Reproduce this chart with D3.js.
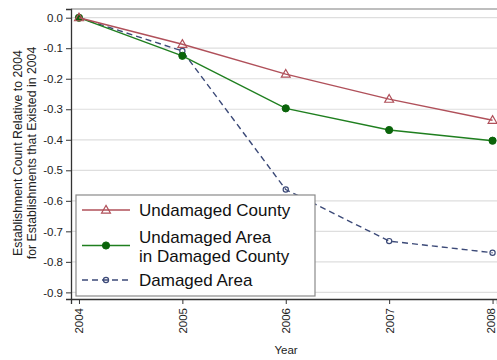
<!DOCTYPE html>
<html>
<head>
<meta charset="utf-8">
<script src="https://cdn.jsdelivr.net/npm/d3@7"></script>
<style>
  html, body { margin: 0; padding: 0; background: #fff; }
  svg { display: block; font-family: "Liberation Sans", Arial, sans-serif; }
</style>
</head>
<body>
<svg id="chart" width="497" height="360"></svg>
<script>
// Establishment counts relative to 2004, by area type
const years = [2004, 2005, 2006, 2007, 2008];
const undamagedCounty = [0, -0.087, -0.185, -0.267, -0.336];
const undamagedAreaDamagedCounty = [0, -0.125, -0.297, -0.368, -0.403];
const damagedArea = [0, -0.109, -0.563, -0.732, -0.770];
const yTicks = [0, -0.1, -0.2, -0.3, -0.4, -0.5, -0.6, -0.7, -0.8, -0.9];

const seriesNames = ["Undamaged County", "Undamaged Area\nin Damaged County", "Damaged Area"];
const seriesValues = [undamagedCounty, undamagedAreaDamagedCounty, damagedArea];
const seriesStyle = [
  { color: "#b0505a", dash: null, marker: "triangle" },
  { color: "#1f7f1f", dash: null, marker: "dot", fill: "#0a640a" },
  { color: "#3c4a78", dash: "6,4", marker: "ring" }
];

const svg = d3.select("#chart");
const plotLeft = 71, plotRight = 497, plotTop = 9, plotBottom = 299;

const x = d3.scaleLinear().domain([2003.923, 2008.043]).range([plotLeft, plotRight]);
const y = d3.scaleLinear().domain([0.0285, -0.9217]).range([plotTop, plotBottom]);

// grid lines
svg.append("g").selectAll("line").data(yTicks).join("line")
  .attr("x1", plotLeft).attr("x2", plotRight)
  .attr("y1", d => y(d)).attr("y2", d => y(d))
  .attr("stroke", "#dedede").attr("stroke-width", 1.2);

// top frame line
svg.append("line").attr("x1", plotLeft).attr("x2", plotRight).attr("y1", plotTop).attr("y2", plotTop)
  .attr("stroke", "#a8a8a8").attr("stroke-width", 1.5);

// y axis
const yAxis = svg.append("g").attr("transform", `translate(${plotLeft},0)`)
  .call(d3.axisLeft(y).tickValues(yTicks).tickSize(5).tickPadding(3)
    .tickFormat(d => d3.format(".1f")(d).replace("−", "-")));
yAxis.select(".domain").attr("stroke", "#333").attr("stroke-width", 1.3);
yAxis.selectAll(".tick line").attr("stroke", "#333");
yAxis.selectAll("text").attr("font-size", 11.5).attr("fill", "#222")
  .attr("font-family", "Liberation Sans, Arial, sans-serif");

// x axis
const xAxis = svg.append("g").attr("transform", `translate(0,${plotBottom})`)
  .call(d3.axisBottom(x).tickValues(years).tickSize(5).tickFormat(d3.format("d")));
xAxis.select(".domain").attr("stroke", "#333").attr("stroke-width", 1.3);
xAxis.selectAll(".tick line").attr("stroke", "#333");
xAxis.selectAll("text").attr("font-size", 11.5).attr("fill", "#222")
  .attr("font-family", "Liberation Sans, Arial, sans-serif")
  .attr("transform", "rotate(-90)")
  .attr("text-anchor", "end").attr("dy", "0.35em").attr("x", -9).attr("y", 0);
// keep the last year label inside the page
xAxis.selectAll(".tick").filter(d => d === 2008).select("text").attr("dy", "0.2em");

// axis titles
svg.append("text").attr("x", 286).attr("y", 354).attr("text-anchor", "middle")
  .attr("font-size", 11.5).attr("fill", "#222").text("Year");
const yt = svg.append("text").attr("transform", "translate(18,153) rotate(-90)")
  .attr("text-anchor", "middle").attr("font-size", 12.3).attr("fill", "#222");
yt.append("tspan").attr("x", 0).attr("dy", "0.35em").text("Establishment Count Relative to 2004");
yt.append("tspan").attr("x", 0).attr("dy", "1.1em").text("for Establishments that Existed in 2004");

// markers
function drawMarker(g, kind, style, cx, cy) {
  if (kind === "triangle") {
    g.append("path").attr("d", d3.symbol(d3.symbolTriangle, 34)())
      .attr("transform", `translate(${cx},${cy + 0.5})`)
      .attr("fill", "none").attr("stroke", style.color).attr("stroke-width", 1.2);
  } else if (kind === "dot") {
    g.append("circle").attr("cx", cx).attr("cy", cy).attr("r", 3.6)
      .attr("fill", style.fill).attr("stroke", style.fill);
  } else {
    g.append("circle").attr("cx", cx).attr("cy", cy).attr("r", 2.6)
      .attr("fill", "none").attr("stroke", style.color).attr("stroke-width", 1.2);
  }
}

const line = d3.line().x((d, i) => x(years[i])).y(d => y(d));
// draw order: damaged area underneath, then green, then red
[2, 1, 0].forEach(k => {
  const st = seriesStyle[k];
  const g = svg.append("g");
  g.append("path").datum(seriesValues[k]).attr("d", line)
    .attr("fill", "none").attr("stroke", st.color).attr("stroke-width", 1.4)
    .attr("stroke-dasharray", st.dash);
  seriesValues[k].forEach((v, i) => drawMarker(g, st.marker, st, x(years[i]), y(v)));
});

// legend
const lg = svg.append("g");
lg.append("rect").attr("x", 76).attr("y", 195).attr("width", 239).attr("height", 101)
  .attr("fill", "#fff").attr("stroke", "#8a8a8a").attr("stroke-width", 1.2);
const legendRows = [
  { lineY: 210, textY: [210] },
  { lineY: 245.5, textY: [237, 256] },
  { lineY: 280, textY: [280] }
];
legendRows.forEach((r, k) => {
  const st = seriesStyle[k];
  lg.append("line").attr("x1", 82).attr("x2", 130).attr("y1", r.lineY).attr("y2", r.lineY)
    .attr("stroke", st.color).attr("stroke-width", 1.4).attr("stroke-dasharray", st.dash);
  drawMarker(lg, st.marker, st, 106, r.lineY);
  const lines = seriesNames[k].split("\n");
  lines.forEach((t, j) => {
    lg.append("text").attr("x", 139).attr("y", r.textY[j]).attr("dy", "0.35em")
      .attr("font-size", 17).attr("fill", "#111").text(t);
  });
});
</script>
</body>
</html>
